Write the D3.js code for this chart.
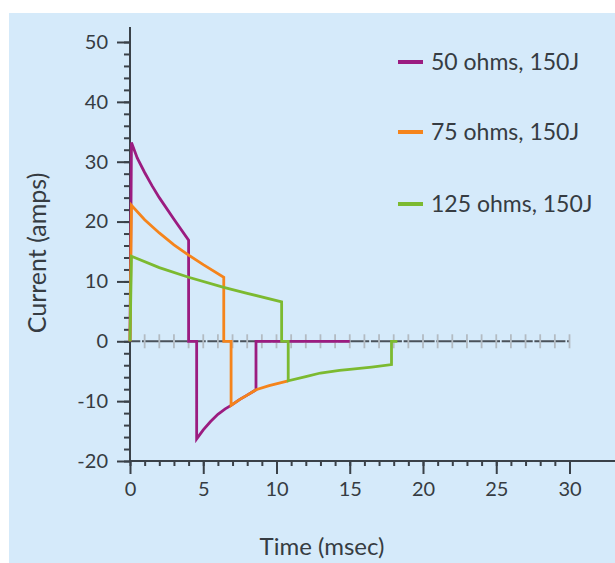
<!DOCTYPE html>
<html>
<head>
<meta charset="utf-8">
<script src="https://cdn.jsdelivr.net/npm/d3@7/dist/d3.min.js"></script>
<style>
  html, body { margin: 0; padding: 0; background: #ffffff; }
  svg { display: block; }
  text { font-family: Lato, "Open Sans", sans-serif; fill: #363c42; }
</style>
</head>
<body>
<svg id="chart" width="615" height="563"></svg>
<script>
// Defibrillation current waveforms at 150 J for three patient impedances
const seriesNames = ["50 ohms, 150J", "75 ohms, 150J", "125 ohms, 150J"];
const seriesColors = ["#9b1c80", "#f5841b", "#7cba30"];

const time50 = [0, 0.1, 0.5, 1, 1.5, 2, 3, 4, 4, 4.55, 4.55, 5, 5.5, 6, 6.5, 6.9, 7.5, 8, 8.6, 8.6, 15];
const amps50 = [0, 33.2, 30.6, 28.2, 26.0, 24.0, 20.4, 16.9, 0, 0, -16.3, -14.8, -13.4, -12.2, -11.3, -10.7, -9.7, -9.0, -8.1, 0, 0];

const time75 = [0, 0.1, 1, 2, 3, 4, 5, 6.4, 6.4, 6.9, 6.9, 7.5, 8, 8.6, 9.5, 10.8];
const amps75 = [0, 22.7, 20.3, 18.1, 16.1, 14.4, 12.8, 10.7, 0, 0, -10.7, -9.7, -9.0, -8.1, -7.4, -6.6];

const time125 = [0, 0.1, 2, 4, 6.4, 8, 10.35, 10.35, 10.8, 10.8, 12, 13, 14.3, 15, 16.5, 17.85, 17.85, 18.25];
const amps125 = [0, 14.2, 12.3, 10.7, 9.0, 8.0, 6.6, 0, 0, -6.6, -5.9, -5.3, -4.85, -4.7, -4.3, -3.9, 0, 0];

const xMajorTicks = [0, 5, 10, 15, 20, 25, 30];
const yMajorTicks = [-20, -10, 0, 10, 20, 30, 40, 50];

const svg = d3.select("#chart");

// panel background
svg.append("rect")
  .attr("x", 9).attr("y", 13)
  .attr("width", 606).attr("height", 550)
  .attr("fill", "#d5eafa");

const x = d3.scaleLinear().domain([0, 30]).range([130, 569.5]);
const y = d3.scaleLinear().domain([-20, 50]).range([461, 42]);

const axisColor = "#3a4148";
const plain = d => String(d);

// y axis: minor ticks every 2 A, major every 10 A
const yMinor = svg.append("g").attr("transform", `translate(${x(0)},0)`)
  .call(d3.axisLeft(y).tickValues(d3.range(-20, 51, 2)).tickSize(6).tickFormat(""));
yMinor.select(".domain").remove();
const yMajor = svg.append("g").attr("transform", `translate(${x(0)},0)`)
  .call(d3.axisLeft(y).tickValues(yMajorTicks).tickSize(13).tickPadding(9).tickFormat(plain));
yMajor.select(".domain").remove();
svg.append("line")
  .attr("x1", x(0)).attr("x2", x(0))
  .attr("y1", y(52.5)).attr("y2", y(-20))
  .attr("stroke", axisColor).attr("stroke-width", 2);

// x axis: minor ticks every 1 ms, major every 5 ms
const xMinor = svg.append("g").attr("transform", `translate(0,${y(-20)})`)
  .call(d3.axisBottom(x).tickValues(d3.range(0, 31, 1)).tickSize(5).tickFormat(""));
xMinor.select(".domain").remove();
const xMajor = svg.append("g").attr("transform", `translate(0,${y(-20)})`)
  .call(d3.axisBottom(x).tickValues(xMajorTicks).tickSize(13).tickPadding(8).tickFormat(plain));
xMajor.select(".domain").remove();
svg.append("line")
  .attr("x1", x(0)).attr("x2", x(35.8))
  .attr("y1", y(-20)).attr("y2", y(-20))
  .attr("stroke", axisColor).attr("stroke-width", 2);

svg.selectAll(".tick line").attr("stroke", axisColor).attr("stroke-width", 2);
svg.selectAll(".tick text").style("font-size", "20px").attr("fill", "#363c42");

// zero baseline with its own light ticks
svg.append("line")
  .attr("x1", x(0)).attr("x2", x(30))
  .attr("y1", y(0)).attr("y2", y(0))
  .attr("stroke", "#4a525a").attr("stroke-width", 2)
  .attr("stroke-dasharray", "31,1.7")
  .attr("stroke-dashoffset", -12);
svg.append("g").selectAll("line")
  .data(d3.range(1, 31))
  .join("line")
  .attr("x1", d => x(d)).attr("x2", d => x(d))
  .attr("y1", y(0) - 7).attr("y2", y(0) + 7)
  .attr("stroke", "#b3bbc2").attr("stroke-width", 1.8);

// waveforms
const series = [
  { t: time50, a: amps50 },
  { t: time75, a: amps75 },
  { t: time125, a: amps125 }
];
const line = d3.line().x(d => x(d[0])).y(d => y(d[1]));
series.forEach((s, i) => {
  const pts = s.t.map((t, k) => [t, s.a[k]]);
  svg.append("path")
    .datum(pts)
    .attr("d", line)
    .attr("fill", "none")
    .attr("stroke", seriesColors[i])
    .attr("stroke-width", 2.8)
    .attr("stroke-linejoin", "miter");
});

// legend
const legendY = [62, 132, 204];
seriesNames.forEach((name, i) => {
  svg.append("line")
    .attr("x1", 398).attr("x2", 423)
    .attr("y1", legendY[i]).attr("y2", legendY[i])
    .attr("stroke", seriesColors[i]).attr("stroke-width", 4);
  svg.append("text")
    .attr("x", 431).attr("y", legendY[i]).attr("dy", "0.35em")
    .style("font-size", "23px")
    .text(name);
});

// axis titles
svg.append("text")
  .attr("x", 322).attr("y", 555)
  .attr("text-anchor", "middle")
  .style("font-size", "24px")
  .text("Time (msec)");
svg.append("text")
  .attr("transform", "translate(46,253) rotate(-90)")
  .attr("text-anchor", "middle")
  .style("font-size", "25px")
  .text("Current (amps)");
</script>
</body>
</html>
